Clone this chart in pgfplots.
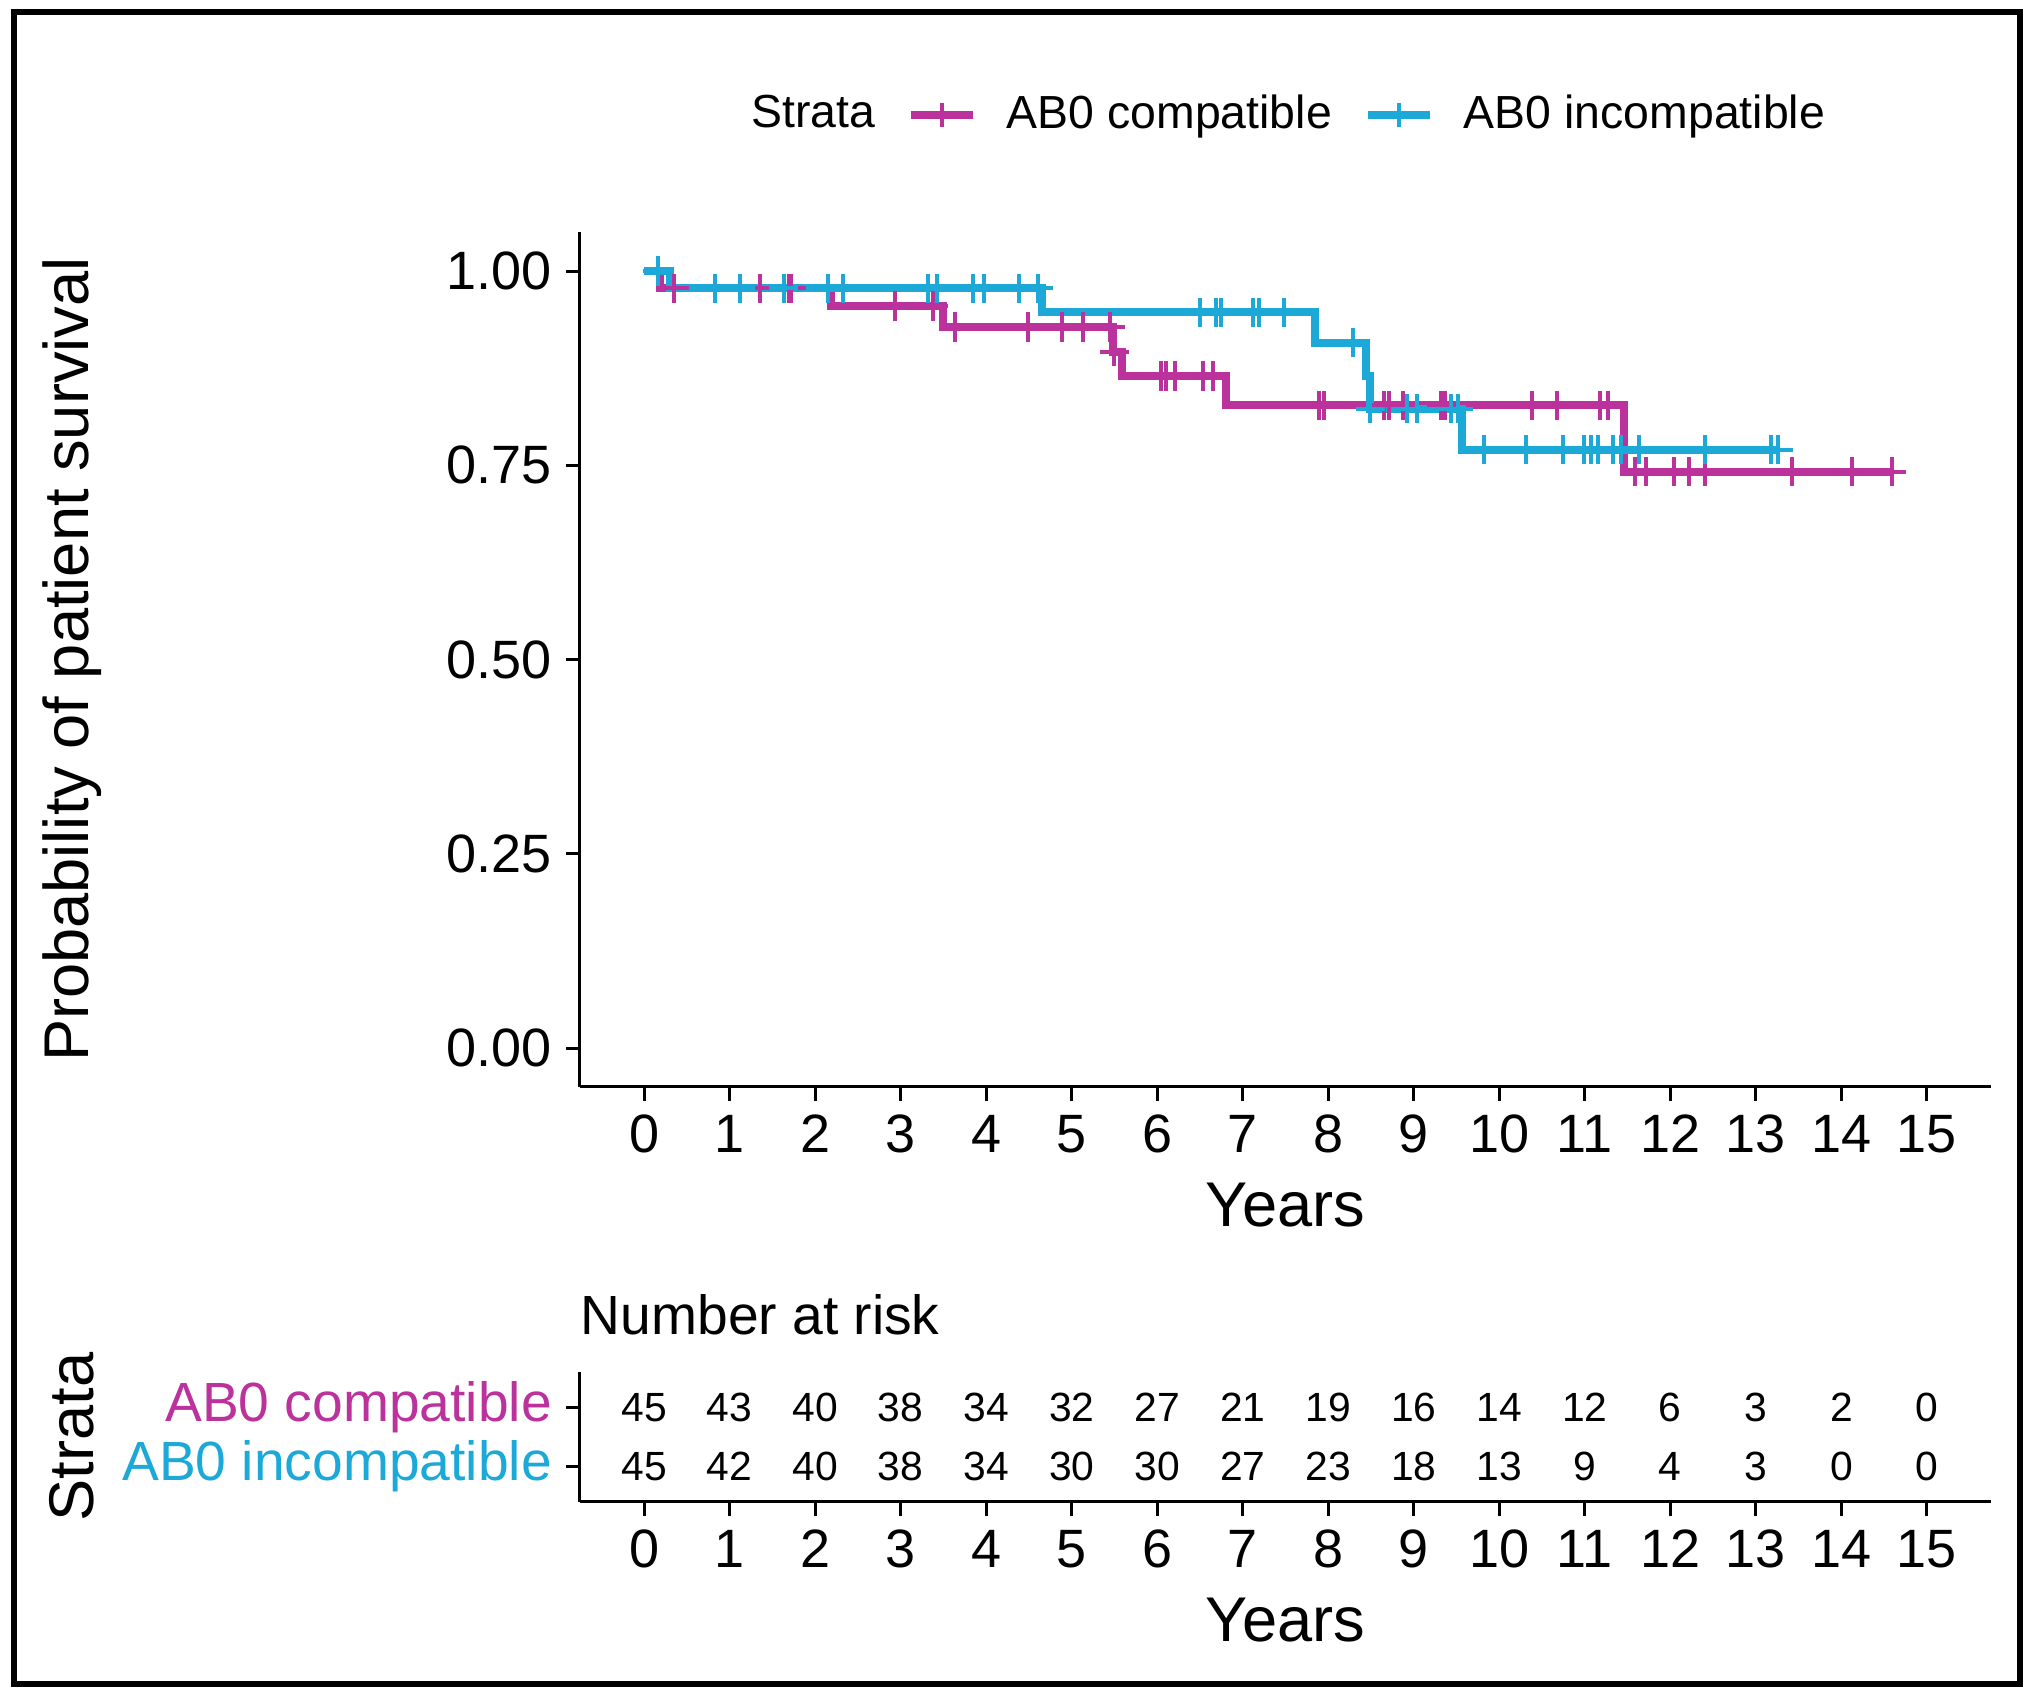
\documentclass[border=0pt]{standalone}
\usepackage{fontspec}
\setmainfont{Liberation Sans}
\usepackage{pgfplots}
\pgfplotsset{compat=1.18}
\usepackage{xcolor}

\definecolor{magc}{RGB}{187,50,157}
\definecolor{cyanc}{RGB}{28,169,216}

\newcommand{\ticksize}{\fontsize{13.5}{16}\selectfont}
\newcommand{\labsize}{\fontsize{15.8}{19}\selectfont}

\pgfplotsset{
  kmline/.style={const plot, line width=2pt},
  censor/.style={only marks, mark=+, mark size=3.65pt, mark options={line width=1pt}, forget plot},
  keyimg/.style={legend image code/.code={
      \draw[line width=2pt] (0pt,0pt) -- (15.5pt,0pt);
      \draw[line width=1pt] (7.75pt,-3pt) -- (7.75pt,3pt);}},
  survax/.style={
    scale only axis,
    width=352.75pt,
    xmin=-0.75, xmax=15.75,
    axis x line*=bottom, axis y line*=left,
    axis line style={-, line width=0.75pt, black},
    tick style={line width=0.75pt, black},
    tick align=outside,
    major tick length=3.5pt,
    xtick={0,1,...,15},
    /pgf/number format/assume math mode=true,
    tick label style={font=\ticksize},
    label style={font=\labsize},
  },
}

\begin{document}
\begin{tikzpicture}
\path (0,0) rectangle (509.25pt,-424.75pt);
\draw[line width=1.5pt] (3.55pt,-2.9pt) rectangle (504.9pt,-421.1pt);

% survival curves
\begin{axis}[
  survax,
  at={(145pt,-271.75pt)}, anchor=south west,
  height=213.7pt,
  ymin=-0.05, ymax=1.05,
  ytick={0,0.25,0.5,0.75,1},
  yticklabels={0.00,0.25,0.50,0.75,1.00},
  xlabel={Years},
  ylabel={Probability of patient survival},
  xlabel style={at={(axis description cs:0.5,-0.1385)}, anchor=center},
  ylabel style={at={(axis description cs:-0.36,0.5)}, anchor=center},
  legend columns=-1,
  legend style={at={(axis description cs:0.0995,1.1375)}, anchor=west,
    draw=none, fill=none, inner sep=0pt,
    font=\fontsize{11.6}{14}\selectfont,
    nodes={inner sep=0pt},
    column sep=7.5pt,
    /tikz/every even column/.append style={column sep=8pt}},
]
\addlegendimage{empty legend}
\addlegendentry{Strata}

\addplot[kmline, magc, keyimg] coordinates {
  (0,1) (0.19,0.978) (2.19,0.955) (3.49,0.928) (5.48,0.896) (5.59,0.865)
  (6.81,0.827) (11.46,0.742) (14.59,0.742)
};
\addlegendentry{AB0 compatible}

\addplot[kmline, cyanc, keyimg] coordinates {
  (0,1) (0.30,0.978) (4.65,0.947) (7.85,0.908) (8.44,0.865) (8.49,0.823)
  (9.56,0.770) (13.26,0.770)
};
\addlegendentry{AB0 incompatible}

\addplot[censor, magc] coordinates {
  (0.35,0.978) (1.36,0.978) (1.69,0.978) (1.72,0.978)
  (2.93,0.955) (3.38,0.955)
  (3.63,0.928) (4.49,0.928) (4.89,0.928) (5.13,0.928) (5.45,0.928)
  (5.50,0.896)
  (6.04,0.865) (6.10,0.865) (6.21,0.865) (6.53,0.865) (6.65,0.865)
  (7.89,0.827) (7.95,0.827) (8.65,0.827) (8.71,0.827) (8.87,0.827)
  (9.32,0.827) (9.37,0.827) (10.38,0.827) (10.67,0.827) (11.18,0.827) (11.27,0.827)
  (11.59,0.742) (11.72,0.742) (12.04,0.742) (12.22,0.742) (12.41,0.742)
  (13.42,0.742) (14.13,0.742) (14.59,0.742)
};

\addplot[censor, cyanc] coordinates {
  (0.16,1)
  (0.83,0.978) (1.12,0.978) (1.63,0.978) (2.15,0.978) (2.32,0.978)
  (3.32,0.978) (3.43,0.978) (3.84,0.978) (3.97,0.978) (4.38,0.978) (4.61,0.978)
  (6.50,0.947) (6.69,0.947) (6.74,0.947) (7.12,0.947) (7.19,0.947) (7.48,0.947)
  (8.29,0.908)
  (8.49,0.823) (8.92,0.823) (9.04,0.823) (9.43,0.823) (9.52,0.823)
  (9.82,0.770) (10.31,0.770) (10.75,0.770) (10.99,0.770) (11.07,0.770)
  (11.16,0.770) (11.33,0.770) (11.42,0.770) (11.63,0.770) (12.40,0.770)
  (13.18,0.770) (13.26,0.770)
};
\end{axis}

% number at risk table
\begin{axis}[
  survax,
  at={(145pt,-375.5pt)}, anchor=south west,
  height=32.5pt,
  ymin=0.4, ymax=2.6,
  ytick={1,2},
  yticklabels={{\color{cyanc}AB0 incompatible},{\color{magc}AB0 compatible}},
  yticklabel style={font=\fontsize{13.8}{16}\selectfont},
  xlabel={Years},
  ylabel={Strata},
  xlabel style={at={(axis description cs:0.5,-0.908)}, anchor=center},
  ylabel style={at={(axis description cs:-0.36,0.5)}, anchor=center},
  title={Number at risk},
  title style={at={(axis description cs:0,1.255)}, anchor=west, inner sep=0pt,
    font=\fontsize{13.8}{16}\selectfont},
]
\addplot[draw=none, nodes near coords, point meta=explicit symbolic,
  every node near coord/.append style={anchor=center, black,
    font=\fontsize{10.2}{12}\selectfont}]
coordinates {
  (0,2)[45] (1,2)[43] (2,2)[40] (3,2)[38] (4,2)[34] (5,2)[32] (6,2)[27] (7,2)[21]
  (8,2)[19] (9,2)[16] (10,2)[14] (11,2)[12] (12,2)[6] (13,2)[3] (14,2)[2] (15,2)[0]
};
\addplot[draw=none, nodes near coords, point meta=explicit symbolic,
  every node near coord/.append style={anchor=center, black,
    font=\fontsize{10.2}{12}\selectfont}]
coordinates {
  (0,1)[45] (1,1)[42] (2,1)[40] (3,1)[38] (4,1)[34] (5,1)[30] (6,1)[30] (7,1)[27]
  (8,1)[23] (9,1)[18] (10,1)[13] (11,1)[9] (12,1)[4] (13,1)[3] (14,1)[0] (15,1)[0]
};
\end{axis}
\end{tikzpicture}
\end{document}
